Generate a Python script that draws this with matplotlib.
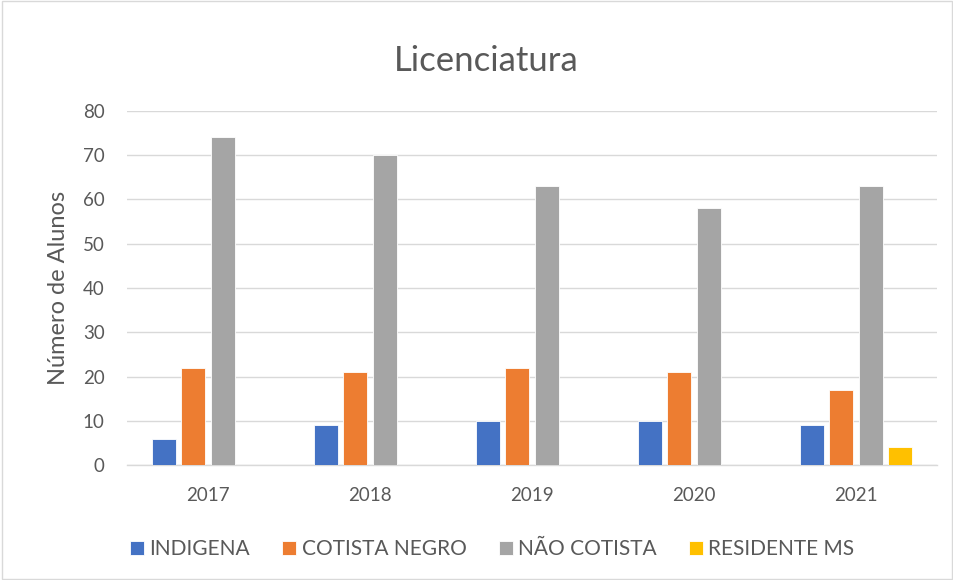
import numpy as np
import matplotlib
matplotlib.use("Agg")
import matplotlib.pyplot as plt
from matplotlib.patches import Rectangle

plt.rcParams["font.family"] = ["Lato", "DejaVu Sans"]

anos = ["2017", "2018", "2019", "2020", "2021"]
series = ["INDIGENA", "COTISTA NEGRO", "NÃO COTISTA", "RESIDENTE MS"]
indigena = [6, 9, 10, 10, 9]
cotista_negro = [22, 21, 22, 21, 17]
nao_cotista = [74, 70, 63, 58, 63]
residente_ms = [0, 0, 0, 0, 4]
cores = ["#4472c4", "#ed7d31", "#a5a5a5", "#ffc000"]

texto = "#595959"

fig = plt.figure(figsize=(9.54, 5.8), dpi=100)
ax = fig.add_axes([0.133, 0.198, 0.849, 0.611])

x = np.arange(len(anos))
largura = 0.148
passo = 0.182
valores = [indigena, cotista_negro, nao_cotista, residente_ms]
for i, (nome, vals, cor) in enumerate(zip(series, valores, cores)):
    ax.bar(x + (i - 1.5) * passo, vals, width=largura, color=cor,
           edgecolor="white", linewidth=0.6, label=nome, zorder=3)

ax.set_xlim(-0.5, len(anos) - 0.5)
ax.set_ylim(0, 80)
ax.set_yticks(range(0, 81, 10))
ax.set_xticks(x)
ax.set_xticklabels(anos)
ax.grid(axis="y", color="#d9d9d9", linewidth=1.0, zorder=0)
for s in ["top", "right", "left"]:
    ax.spines[s].set_visible(False)
ax.spines["bottom"].set_color("#d9d9d9")
ax.spines["bottom"].set_linewidth(1.0)
ax.tick_params(axis="both", length=0, labelsize=13.5, colors=texto)
ax.tick_params(axis="x", pad=16)
ax.tick_params(axis="y", pad=16)
ax.set_ylabel("Número de Alunos", fontsize=17, color=texto, labelpad=10)

fig.text(0.51, 0.895, "Licenciatura", ha="center", va="center",
         fontsize=25, color=texto)

leg = fig.legend(loc="center", bbox_to_anchor=(0.516, 0.053), ncol=4,
                 frameon=False, fontsize=15, handlelength=0.67,
                 handleheight=0.67, handletextpad=0.25, columnspacing=1.55)
for t in leg.get_texts():
    t.set_color(texto)

fig.patches.append(Rectangle((0.002, 0.002), 0.996, 0.996, transform=fig.transFigure,
                             fill=False, edgecolor="#d9d9d9", linewidth=1.0))

fig.savefig("out.png", dpi=100, facecolor="white")
